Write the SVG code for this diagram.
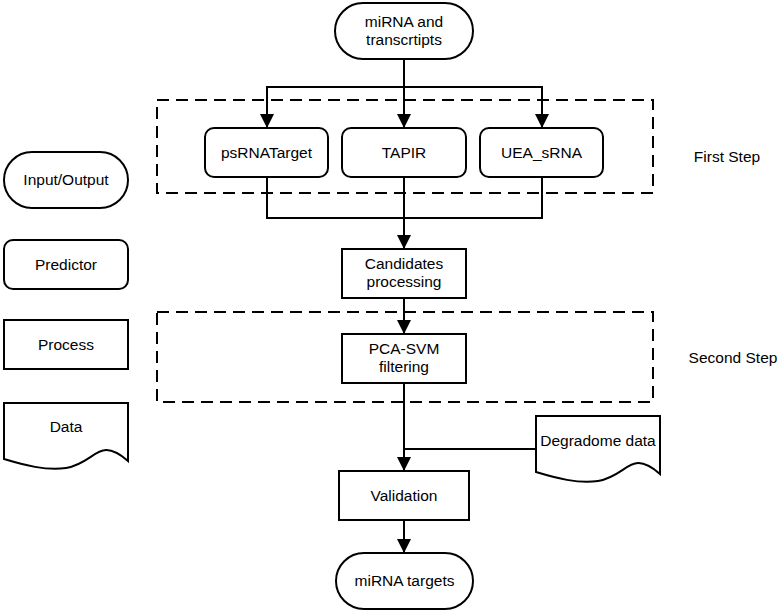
<svg xmlns="http://www.w3.org/2000/svg" width="781" height="613" viewBox="0 0 781 613">
<style>
.s{fill:#fff;stroke:#000;stroke-width:2}
.d{fill:none;stroke:#000;stroke-width:2;stroke-dasharray:12 7}
.c{fill:none;stroke:#000;stroke-width:2}
text{font-family:"Liberation Sans",Arial,sans-serif;font-size:15.5px;fill:#000;text-anchor:middle}
</style>
<defs>
<marker id="a" markerUnits="userSpaceOnUse" markerWidth="14" markerHeight="14" viewBox="0 0 12 12" refX="12" refY="6" orient="auto">
<path d="M0,0 L12,6 L0,12 Z" fill="#000"/>
</marker>
</defs>
<rect width="781" height="613" fill="#fff"/>
<g id="groups">
<rect class="d" x="157" y="100" width="496" height="93"/>
<rect class="d" x="157" y="312" width="496" height="90"/>
<text x="727" y="162">First Step</text>
<text x="733" y="363">Second Step</text>
</g>
<g id="connectors">
<path class="c" d="M404,59 V128" marker-end="url(#a)"/>
<path class="c" d="M267,128 V87 H542 V128" marker-end="url(#a)"/>
<path class="c" d="M267,87 V128" marker-end="url(#a)"/>
<path class="c" d="M267,177 V218 H542 V177"/>
<path class="c" d="M404,177 V249" marker-end="url(#a)"/>
<path class="c" d="M404,298 V334" marker-end="url(#a)"/>
<path class="c" d="M404,383 V471" marker-end="url(#a)"/>
<path class="c" d="M536,449 H404"/>
<path class="c" d="M404,520 V553" marker-end="url(#a)"/>
</g>
<g id="input">
<rect class="s" x="335" y="3" width="138" height="56" rx="28"/>
<text x="404" y="27">miRNA and</text>
<text x="404" y="45">transcrtipts</text>
</g>
<g id="psRNATarget">
<rect class="s" x="205" y="128" width="123" height="49" rx="9"/>
<text x="266.5" y="158">psRNATarget</text>
</g>
<g id="TAPIR">
<rect class="s" x="342" y="128" width="124" height="49" rx="9"/>
<text x="404" y="158">TAPIR</text>
</g>
<g id="UEA_sRNA">
<rect class="s" x="480" y="128" width="123" height="49" rx="9"/>
<text x="541.5" y="158">UEA_sRNA</text>
</g>
<g id="candidates">
<rect class="s" x="342" y="249" width="124" height="49"/>
<text x="404" y="269">Candidates</text>
<text x="404" y="287">processing</text>
</g>
<g id="pcasvm">
<rect class="s" x="342" y="334" width="124" height="49"/>
<text x="404" y="354">PCA-SVM</text>
<text x="404" y="372">filtering</text>
</g>
<g id="degradome">
<path class="s" d="M536,416 H660 V474 C630,448 628,476 598,481 C578,484 556,478 536,472 Z"/>
<text x="598" y="446">Degradome data</text>
</g>
<g id="validation">
<rect class="s" x="339" y="471" width="130" height="49"/>
<text x="404" y="501">Validation</text>
</g>
<g id="output">
<rect class="s" x="336" y="553" width="137" height="56" rx="28"/>
<text x="404.5" y="586">miRNA targets</text>
</g>
<g id="legend">
<rect class="s" x="4" y="152" width="124" height="56" rx="28"/>
<text x="66" y="185">Input/Output</text>
<rect class="s" x="4" y="240" width="124" height="49" rx="9"/>
<text x="66" y="270">Predictor</text>
<rect class="s" x="4" y="320" width="124" height="49"/>
<text x="66" y="350">Process</text>
<path class="s" d="M4,403 H128 V461 C98,435 96,463 66,468 C46,471 24,465 4,459 Z"/>
<text x="66" y="432">Data</text>
</g>
</svg>
